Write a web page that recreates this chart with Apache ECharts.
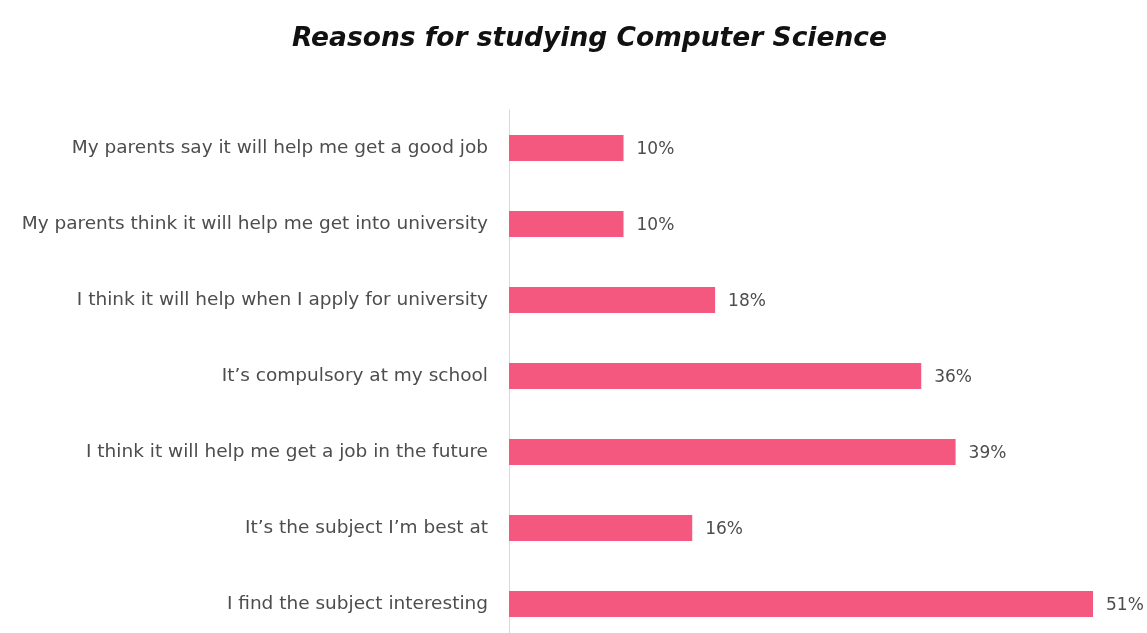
<!DOCTYPE html>
<html>
<head>
<meta charset="utf-8">
<style>
  html, body { margin: 0; padding: 0; background: #ffffff; }
  #chart { width: 1147px; height: 633px; }
</style>
<script src="https://cdn.jsdelivr.net/npm/echarts@6/dist/echarts.min.js"></script>
</head>
<body>
<div id="chart"></div>
<script>
// Survey reasons, top to bottom
const reasons = [
  "My parents say it will help me get a good job",
  "My parents think it will help me get into university",
  "I think it will help when I apply for university",
  "It\u2019s compulsory at my school",
  "I think it will help me get a job in the future",
  "It\u2019s the subject I\u2019m best at",
  "I find the subject interesting"
];
// Share of respondents (%)
const shares = [10, 10, 18, 36, 39, 16, 51];

const chart = echarts.init(document.getElementById('chart'), null, { renderer: 'canvas' });
const font = '"DejaVu Sans", sans-serif';

chart.setOption({
  backgroundColor: '#ffffff',
  animation: false,
  title: {
    text: 'Reasons for studying Computer Science',
    left: 287,
    top: 21,
    textStyle: {
      fontFamily: font,
      fontSize: 26.5,
      fontWeight: 'bold',
      fontStyle: 'italic',
      color: '#111111'
    }
  },
  grid: {
    left: 509, width: 584, top: 110, height: 532,
    containLabel: false,
    outerBoundsMode: 'none'
  },
  xAxis: {
    type: 'value',
    min: 0,
    max: 51,
    show: false
  },
  yAxis: {
    type: 'category',
    data: reasons,
    inverse: true,
    axisLine: { show: true, lineStyle: { color: '#d9d9d9', width: 1 } },
    axisTick: { show: false },
    axisLabel: {
      margin: 21,
      fontFamily: font,
      fontSize: 18.5,
      color: '#4d4d4d'
    }
  },
  series: [{
    type: 'bar',
    data: shares,
    barWidth: 26,
    itemStyle: { color: '#f5587f' },
    label: {
      show: true,
      position: 'right',
      distance: 13,
      offset: [0, 2],
      formatter: '{c}%',
      fontFamily: font,
      fontSize: 17,
      color: '#4d4d4d'
    }
  }]
});
</script>
</body>
</html>
